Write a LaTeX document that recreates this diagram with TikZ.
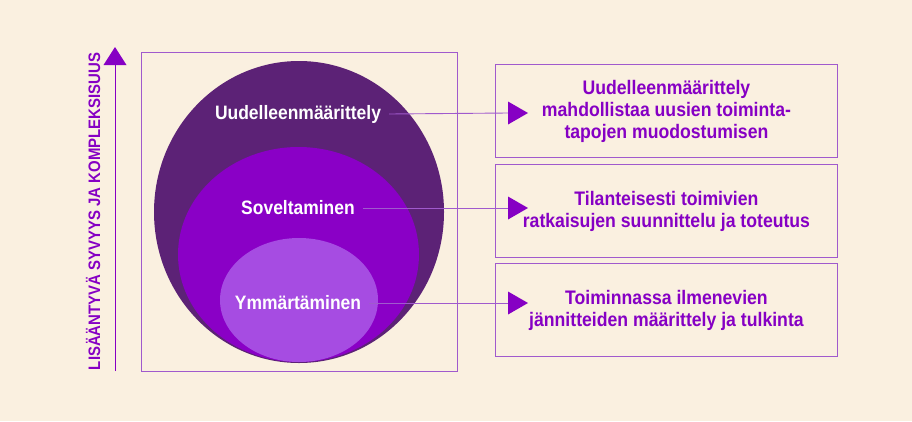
\documentclass[tikz,border=0pt]{standalone}
\usepackage{fontspec}
\setmainfont{Liberation Sans}
\newfontfamily\condfont[FakeStretch=0.9]{Liberation Sans}
\definecolor{bg}{RGB}{250,240,224}
\definecolor{outerc}{RGB}{92,34,118}
\definecolor{midc}{RGB}{138,0,198}
\definecolor{innerc}{RGB}{166,76,226}
\definecolor{accent}{RGB}{134,0,196}
\definecolor{linec}{RGB}{160,90,205}
\begin{document}
\begin{tikzpicture}[x=1pt,y=-1pt,
  frame/.style={draw=linec,line width=0.9pt},
  lvl/.style={text=white,font=\condfont\fontsize{19.4}{20}\selectfont\bfseries,inner sep=0pt},
  desc/.style={frame,minimum width=342pt,minimum height=93pt,anchor=north west,align=center,text=accent,font=\condfont\fontsize{19.6}{22}\selectfont\bfseries},
  conn/.style={draw=linec,line width=0.9pt},
  tri/.style={fill=accent,draw=none}]
\fill[bg] (0,0) rectangle (912,421);
\useasboundingbox (0,0) rectangle (912,421);
% frame around circles
\node[frame,minimum width=316pt,minimum height=319pt,anchor=north west,inner sep=0pt] (sq) at (141,52) {};
% ellipses
\fill[outerc] (299,212) ellipse [x radius=145, y radius=151];
\fill[midc] (298.5,254.5) ellipse [x radius=120.5, y radius=107.5];
\fill[innerc] (299,300) ellipse [x radius=79, y radius=62];
% labels
\node[lvl] (l1) at (298,114) {Uudelleenmäärittely};
\node[lvl] (l2) at (298,208) {Soveltaminen};
\node[lvl] (l3) at (298,303) {Ymmärtäminen};
% description boxes
\node[desc] (b1) at (495,64) {Uudelleenmäärittely\\mahdollistaa uusien toiminta-\\tapojen muodostumisen};
\node[desc] (b2) at (495,164) {Tilanteisesti toimivien\\ratkaisujen suunnittelu ja toteutus};
\node[desc] (b3) at (495,263) {Toiminnassa ilmenevien\\jännitteiden määrittely ja tulkinta};
% arrow tips
\coordinate (t1) at (508,113);
\coordinate (t2) at (508,208);
\coordinate (t3) at (508,303);
\draw[conn] ([xshift=8pt]l1.east) -- (t1);
\draw[conn] ([xshift=8pt]l2.east) -- (t2);
\draw[conn] ([xshift=8pt]l3.east) -- (t3);
\foreach \t in {t1,t2,t3}
  \fill[tri] ([yshift=-11.5pt]\t) -- ([yshift=11.5pt]\t) -- ([xshift=20pt]\t) -- cycle;
% vertical axis
\coordinate (a0) at (115,371);
\coordinate (a1) at (115,64);
\draw[draw=accent,line width=1pt] (a0) -- (a1);
\fill[accent] (103.5,65) -- (126.5,65) -- (115,47) -- cycle;
\node[rotate=90,text=accent,font=\condfont\fontsize{16.6}{18}\selectfont\bfseries,inner sep=0pt] (ax) at (93,211.5) {LISÄÄNTYVÄ SYVYYS JA KOMPLEKSISUUS};
\end{tikzpicture}
\end{document}
